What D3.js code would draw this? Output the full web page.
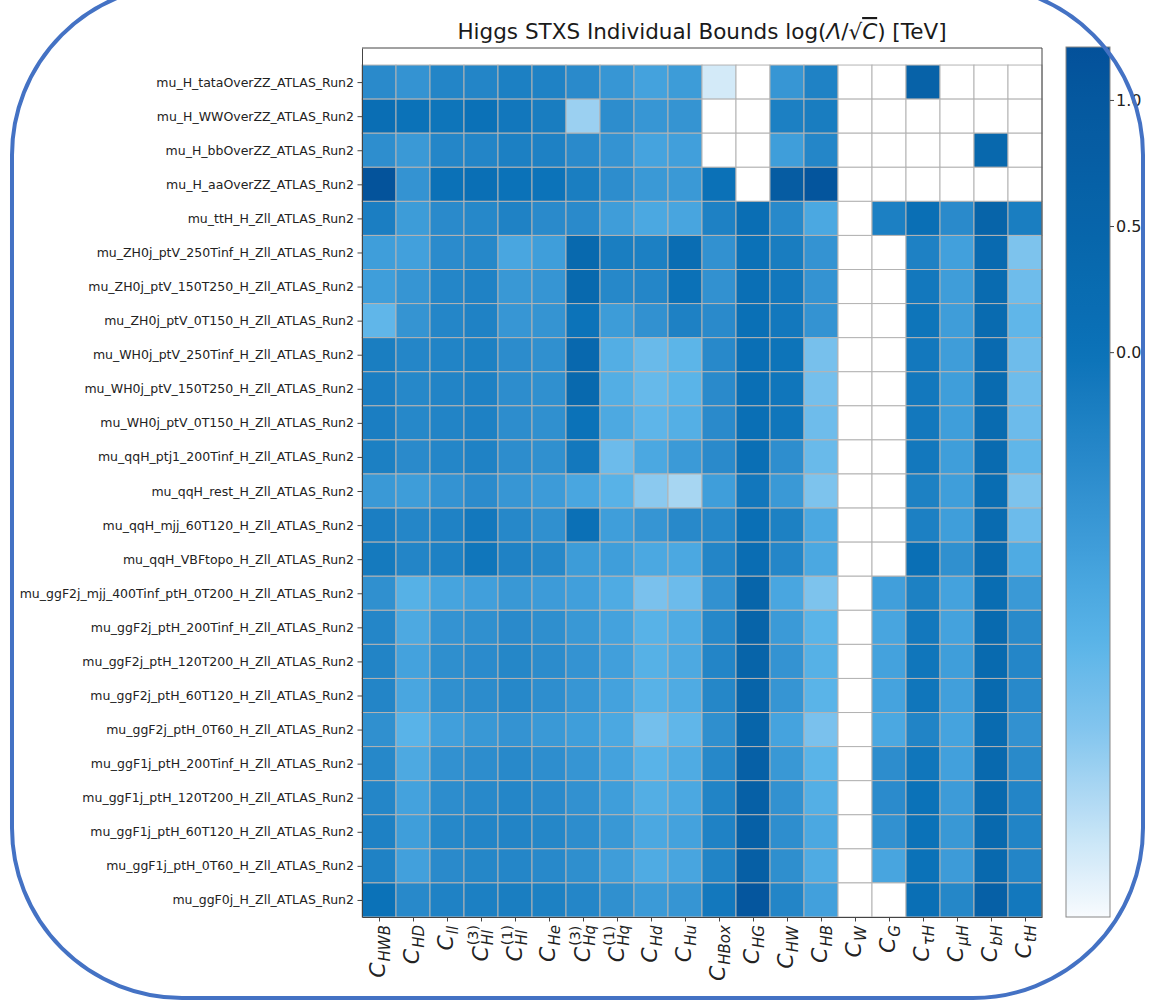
<!DOCTYPE html>
<html>
<head>
<meta charset="utf-8">
<script src="https://cdn.jsdelivr.net/npm/d3@7"></script>
<style>
body { margin: 0; background: #fff; }
svg { display: block; font-family: "DejaVu Sans", sans-serif; }
</style>
</head>
<body>
<div id="chart"></div>
<script>
// row labels, top to bottom
const rowLabels = [
    "mu_H_tataOverZZ_ATLAS_Run2",
    "mu_H_WWOverZZ_ATLAS_Run2",
    "mu_H_bbOverZZ_ATLAS_Run2",
    "mu_H_aaOverZZ_ATLAS_Run2",
    "mu_ttH_H_Zll_ATLAS_Run2",
    "mu_ZH0j_ptV_250Tinf_H_Zll_ATLAS_Run2",
    "mu_ZH0j_ptV_150T250_H_Zll_ATLAS_Run2",
    "mu_ZH0j_ptV_0T150_H_Zll_ATLAS_Run2",
    "mu_WH0j_ptV_250Tinf_H_Zll_ATLAS_Run2",
    "mu_WH0j_ptV_150T250_H_Zll_ATLAS_Run2",
    "mu_WH0j_ptV_0T150_H_Zll_ATLAS_Run2",
    "mu_qqH_ptj1_200Tinf_H_Zll_ATLAS_Run2",
    "mu_qqH_rest_H_Zll_ATLAS_Run2",
    "mu_qqH_mjj_60T120_H_Zll_ATLAS_Run2",
    "mu_qqH_VBFtopo_H_Zll_ATLAS_Run2",
    "mu_ggF2j_mjj_400Tinf_ptH_0T200_H_Zll_ATLAS_Run2",
    "mu_ggF2j_ptH_200Tinf_H_Zll_ATLAS_Run2",
    "mu_ggF2j_ptH_120T200_H_Zll_ATLAS_Run2",
    "mu_ggF2j_ptH_60T120_H_Zll_ATLAS_Run2",
    "mu_ggF2j_ptH_0T60_H_Zll_ATLAS_Run2",
    "mu_ggF1j_ptH_200Tinf_H_Zll_ATLAS_Run2",
    "mu_ggF1j_ptH_120T200_H_Zll_ATLAS_Run2",
    "mu_ggF1j_ptH_60T120_H_Zll_ATLAS_Run2",
    "mu_ggF1j_ptH_0T60_H_Zll_ATLAS_Run2",
    "mu_ggF0j_H_Zll_ATLAS_Run2"
];

// column labels: C with subscript / superscript
const colSubs = ["HWB", "HD", "ll", "Hl", "Hl", "He", "Hq", "Hq", "Hd", "Hu",
    "HBox", "HG", "HW", "HB", "W", "G", "τH", "μH", "bH", "tH"];
const colSups = [null, null, null, "(3)", "(1)", null, "(3)", "(1)", null, null,
    null, null, null, null, null, null, null, null, null, null];

// log(Lambda/sqrt(C)) per row, null = no bound (white)
const values = [
    [-0.45, -0.6, -0.35, -0.35, -0.25, -0.3, -0.45, -0.65, -0.85, -0.75, -2.0, null, -0.65, -0.3, null, null, 0.6, null, null, null],
    [0.15, 0.0, -0.05, 0.05, -0.1, -0.2, -1.65, -0.5, -0.65, -0.62, null, null, -0.25, -0.2, null, null, null, null, null, null],
    [-0.52, -0.7, -0.37, -0.35, -0.25, -0.28, -0.45, -0.6, -0.87, -0.8, null, null, -0.78, -0.37, null, null, null, null, 0.4, null],
    [1.15, -0.6, 0.05, 0.12, 0.0, -0.02, -0.22, -0.5, -0.7, -0.7, 0.02, null, 0.85, 1.1, null, null, null, null, null, null],
    [-0.23, -0.75, -0.45, -0.4, -0.3, -0.45, -0.45, -0.77, -0.95, -0.9, -0.28, 0.15, -0.42, -0.95, null, -0.25, 0.12, -0.45, 0.55, -0.22],
    [-0.78, -0.82, -0.47, -0.4, -0.92, -0.78, 0.35, -0.22, -0.25, 0.18, -0.57, 0.02, -0.2, -0.6, null, null, -0.28, -0.82, 0.3, -1.45],
    [-0.78, -0.63, -0.37, -0.3, -0.68, -0.63, 0.35, -0.4, -0.37, 0.02, -0.57, 0.12, -0.1, -0.6, null, null, -0.12, -0.77, 0.28, -1.32],
    [-1.2, -0.62, -0.37, -0.3, -0.65, -0.62, -0.02, -0.75, -0.57, -0.28, -0.45, 0.08, -0.12, -0.6, null, null, -0.05, -0.77, 0.28, -1.2],
    [-0.22, -0.37, -0.33, -0.27, -0.48, -0.55, 0.37, -1.05, -1.28, -1.17, -0.43, 0.1, -0.03, -1.4, null, null, -0.12, -0.77, 0.3, -1.32],
    [-0.23, -0.4, -0.34, -0.28, -0.5, -0.55, 0.35, -1.05, -1.25, -1.15, -0.45, 0.12, -0.08, -1.38, null, null, -0.12, -0.78, 0.28, -1.32],
    [-0.23, -0.4, -0.34, -0.28, -0.5, -0.55, 0.0, -0.97, -1.18, -1.07, -0.45, 0.12, -0.08, -1.32, null, null, -0.12, -0.78, 0.28, -1.3],
    [-0.25, -0.45, -0.37, -0.3, -0.5, -0.55, -0.12, -1.3, -0.95, -0.72, -0.45, 0.1, -0.52, -1.28, null, null, -0.12, -0.78, 0.28, -1.2],
    [-0.7, -0.76, -0.6, -0.47, -0.65, -0.74, -0.92, -1.12, -1.55, -1.72, -0.78, -0.1, -0.7, -1.45, null, null, -0.27, -0.78, 0.2, -1.45],
    [-0.23, -0.37, -0.3, -0.12, -0.4, -0.55, 0.06, -0.78, -0.63, -0.43, -0.4, 0.12, -0.27, -0.95, null, null, -0.25, -0.78, 0.28, -1.3],
    [-0.15, -0.35, -0.28, -0.07, -0.3, -0.4, -0.75, -0.78, -0.95, -0.95, -0.35, 0.18, -0.37, -0.95, null, null, 0.1, -0.55, 0.35, -1.0],
    [-0.55, -1.1, -0.88, -0.8, -0.68, -0.74, -0.8, -1.0, -1.42, -1.3, -0.57, 0.5, -0.92, -1.45, null, -0.8, -0.27, -0.85, 0.2, -0.7],
    [-0.37, -0.97, -0.6, -0.55, -0.45, -0.53, -0.68, -0.85, -1.12, -1.0, -0.4, 0.55, -0.72, -1.15, null, -0.9, -0.12, -0.85, 0.32, -0.44],
    [-0.34, -0.85, -0.53, -0.47, -0.38, -0.48, -0.6, -0.8, -1.1, -0.97, -0.35, 0.55, -0.6, -1.1, null, -0.85, -0.07, -0.78, 0.32, -0.37],
    [-0.35, -0.92, -0.55, -0.48, -0.4, -0.52, -0.65, -0.85, -1.12, -1.0, -0.38, 0.55, -0.63, -1.15, null, -0.87, -0.08, -0.8, 0.32, -0.42],
    [-0.55, -1.14, -0.8, -0.68, -0.6, -0.7, -0.78, -0.95, -1.37, -1.2, -0.53, 0.5, -0.87, -1.42, null, -0.95, -0.33, -0.87, 0.28, -0.57],
    [-0.4, -0.97, -0.57, -0.5, -0.42, -0.52, -0.63, -0.85, -1.14, -1.0, -0.4, 0.7, -0.68, -1.15, null, -0.5, -0.08, -0.82, 0.35, -0.44],
    [-0.37, -0.85, -0.5, -0.42, -0.37, -0.45, -0.57, -0.78, -1.05, -0.95, -0.33, 0.7, -0.57, -1.07, null, -0.47, 0.0, -0.74, 0.35, -0.35],
    [-0.28, -0.78, -0.4, -0.35, -0.34, -0.38, -0.5, -0.68, -0.95, -0.85, -0.3, 0.7, -0.52, -0.95, null, -0.57, 0.0, -0.68, 0.35, -0.33],
    [-0.3, -0.82, -0.45, -0.38, -0.37, -0.42, -0.53, -0.77, -1.0, -0.9, -0.33, 0.75, -0.53, -1.0, null, -0.9, 0.0, -0.74, 0.35, -0.35],
    [0.0, -0.43, -0.3, -0.25, -0.22, -0.27, -0.37, -0.55, -0.72, -0.63, -0.12, 1.05, -0.35, -0.82, null, null, 0.1, -0.38, 0.7, -0.12]
];

// colour bar range and ticks
const vMin = -2.24, vMax = 1.21;
const cbarTicks = [0.0, 0.5, 1.0];

const W = 1153, H = 1000;
const svg = d3.select("#chart").append("svg")
    .attr("width", W)
    .attr("height", H);

// colormap white -> sky blue -> dark blue
const color = d3.scaleLinear()
    .domain([-2.24, -1.9, -1.5, -1.15, -0.85, -0.5, 0.0, 0.5, 1.0, 1.21])
    .range(["#f8fbfe", "#c4e3f6", "#83c5ee", "#5ab4e8", "#44a2dd", "#2d8dcd", "#0b72b8", "#0765aa", "#05589f", "#03519a"])
    .interpolate(d3.interpolateRgb)
    .clamp(true);

const plotLeft = 362, plotRight = 1042, plotTop = 48, plotBottom = 917;

const x = d3.scaleLinear().domain([0, colSubs.length]).range([plotLeft, plotRight]);
// half empty row above the first one, as in the original
const y = d3.scaleLinear().domain([-0.5, rowLabels.length]).range([plotTop, plotBottom]);

// cells
const cells = [];
values.forEach((row, i) => row.forEach((v, j) => cells.push({i: i, j: j, v: v})));

svg.append("g")
    .selectAll("rect")
    .data(cells)
    .join("rect")
    .attr("x", d => x(d.j))
    .attr("y", d => y(d.i))
    .attr("width", d => x(d.j + 1) - x(d.j))
    .attr("height", d => y(d.i + 1) - y(d.i))
    .attr("fill", d => d.v == null ? "#ffffff" : color(d.v))
    .attr("stroke", "#b3b3b3")
    .attr("stroke-width", 1);

// left axis with row names
const yAxis = d3.axisLeft(y)
    .tickValues(d3.range(rowLabels.length).map(i => i + 0.5))
    .tickFormat(d => rowLabels[Math.floor(d)])
    .tickSize(4.5)
    .tickSizeOuter(0)
    .tickPadding(3.5);

const gy = svg.append("g")
    .attr("transform", "translate(" + plotLeft + ",0)")
    .call(yAxis);
gy.selectAll("text").attr("font-size", 12.5).attr("fill", "#222").attr("font-family", "DejaVu Sans");
gy.selectAll("line, path").attr("stroke", "#444");

// bottom axis, labels drawn by hand as math text
const xAxis = d3.axisBottom(x)
    .tickValues(d3.range(colSubs.length).map(j => j + 0.5))
    .tickFormat("")
    .tickSize(4.5)
    .tickSizeOuter(0);

const gx = svg.append("g")
    .attr("transform", "translate(0," + plotBottom + ")")
    .call(xAxis);
gx.selectAll("line, path").attr("stroke", "#444");

// top and right spines
svg.append("path")
    .attr("d", "M" + plotLeft + "," + plotTop + "H" + plotRight + "V" + plotBottom)
    .attr("fill", "none")
    .attr("stroke", "#444")
    .attr("stroke-width", 1);

// rotated column labels C_{sub}^{sup}
const cSize = 22, sSize = 15;
colSubs.forEach((sub, j) => {
    const outer = svg.append("g")
        .attr("transform", "translate(" + x(j + 0.5) + "," + (plotBottom + 8) + ") rotate(-90)");
    const inner = outer.append("g");
    const tC = inner.append("text")
        .attr("x", 0).attr("y", 0)
        .attr("font-size", cSize)
        .attr("font-style", "italic")
        .attr("fill", "#222")
        .text("C");
    const wC = tC.node().getComputedTextLength() + 1;
    inner.append("text")
        .attr("x", wC).attr("y", 5)
        .attr("font-size", sSize)
        .attr("font-style", "italic")
        .attr("fill", "#222")
        .text(sub);
    if (colSups[j]) {
        inner.append("text")
            .attr("x", wC).attr("y", -10)
            .attr("font-size", sSize * 0.95)
            .attr("fill", "#222")
            .text(colSups[j]);
    }
    const bb = inner.node().getBBox();
    inner.attr("transform", "translate(" + (-(bb.x + bb.width)) + "," + (-(bb.y + bb.height / 2)) + ")");
});

// title
const title = svg.append("text")
    .attr("x", (plotLeft + plotRight) / 2)
    .attr("y", 39)
    .attr("text-anchor", "middle")
    .attr("font-size", 21.5)
    .attr("fill", "#1a1a1a");
title.append("tspan").text("Higgs STXS Individual Bounds log(");
title.append("tspan").attr("font-style", "italic").text("Λ");
title.append("tspan").text("/√");
title.append("tspan").attr("font-style", "italic").style("text-decoration", "overline").text("C");
title.append("tspan").text(") [TeV]");

// colour bar
const cbX = 1066, cbW = 44;
const cy = d3.scaleLinear().domain([vMin, vMax]).range([plotBottom, plotTop - 1]);

const grad = svg.append("defs").append("linearGradient")
    .attr("id", "cbgrad")
    .attr("x1", 0).attr("y1", 1).attr("x2", 0).attr("y2", 0);
grad.selectAll("stop")
    .data(d3.range(0, 1.0001, 0.02))
    .join("stop")
    .attr("offset", t => t)
    .attr("stop-color", t => color(vMin + t * (vMax - vMin)));

svg.append("rect")
    .attr("x", cbX)
    .attr("y", cy(vMax))
    .attr("width", cbW)
    .attr("height", cy(vMin) - cy(vMax))
    .attr("fill", "url(#cbgrad)")
    .attr("stroke", "#888")
    .attr("stroke-width", 1);

const cbAxis = d3.axisRight(cy)
    .tickValues(cbarTicks)
    .tickFormat(d3.format(".1f"))
    .tickSize(4)
    .tickSizeOuter(0)
    .tickPadding(2);

const gcb = svg.append("g")
    .attr("transform", "translate(" + (cbX + cbW) + ",0)")
    .call(cbAxis);
gcb.select(".domain").remove();
gcb.selectAll("line").attr("stroke", "#444");
gcb.selectAll("text").attr("font-size", 16).attr("fill", "#222").attr("font-family", "DejaVu Sans");

// rounded blue frame around the slide
svg.append("rect")
    .attr("x", 12)
    .attr("y", -15)
    .attr("width", 1131)
    .attr("height", 1013)
    .attr("rx", 170)
    .attr("ry", 170)
    .attr("fill", "none")
    .attr("stroke", "#4472c4")
    .attr("stroke-width", 4);
</script>
</body>
</html>
